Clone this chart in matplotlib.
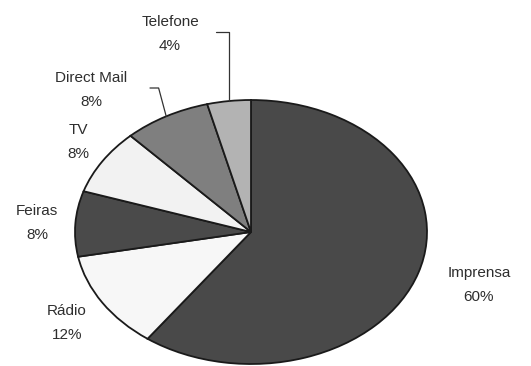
import numpy as np
import matplotlib
matplotlib.use("Agg")
from matplotlib import pyplot as plt

# share of each channel (percent), drawn clockwise from 12 o'clock
channels = ["Imprensa", "Rádio", "Feiras", "TV", "Direct Mail", "Telefone"]
shares = [60, 12, 8, 8, 8, 4]
colors = ["#494949", "#f7f7f7", "#4a4a4a", "#f2f2f2", "#7f7f7f", "#b3b3b3"]

# label block centres in pixels from the top-left corner
label_pos = [(479, 285), (67, 323), (37, 223), (78, 142), (91, 90), (170, 34)]
# where the leader lines start (pixels), only for the two small top slices
leader_start = {"Direct Mail": (150, 88), "Telefone": (216, 32)}

W, H = 531, 366
fig = plt.figure(figsize=(W / 100, H / 100), dpi=100)
# the pie is drawn in an axes box matching the (squashed) ellipse
ax = fig.add_axes([75 / W, (H - 364) / H, 352 / W, 264 / H])

wedges, _ = ax.pie(shares, colors=colors, startangle=90, counterclock=False,
                   wedgeprops=dict(edgecolor="#1a1a1a", linewidth=1.3))
ax.set_aspect("auto")
ax.set_xlim(-1, 1)
ax.set_ylim(-1, 1)
ax.axis("off")

font = dict(family="Liberation Sans", size=11, color="#2e2e2e")

for name, val, w, (px, py) in zip(channels, shares, wedges, label_pos):
    fig.text(px / W, 1 - py / H, f"{name}\n{val}%", ha="center", va="center",
             linespacing=1.85, **font)
    if name in leader_start:
        sx, sy = leader_start[name]
        mid = np.deg2rad((w.theta1 + w.theta2) / 2)
        angB = 90 if name == "Telefone" else 105
        ax.annotate("", xy=(np.cos(mid), np.sin(mid)), xycoords="data",
                    xytext=(sx / W, 1 - sy / H), textcoords="figure fraction",
                    arrowprops=dict(arrowstyle="-", color="#333333", lw=0.9,
                                    shrinkA=0, shrinkB=0,
                                    connectionstyle=f"angle,angleA=0,angleB={angB},rad=0"))

fig.savefig("out.png", dpi=100, facecolor="white")
